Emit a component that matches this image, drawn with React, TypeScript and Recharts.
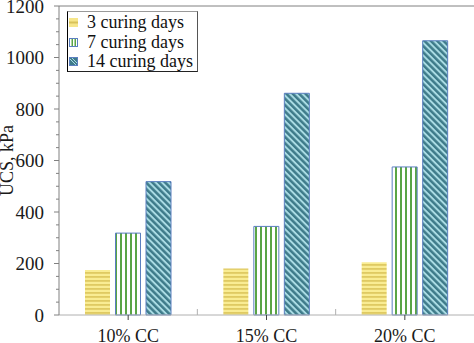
import React from 'react';
import { BarChart, Bar, XAxis, YAxis, ReferenceLine, Legend } from 'recharts';

const categories = ['10% CC', '15% CC', '20% CC'];
const days3 = [175, 181, 205];
const days7 = [318, 344, 575];
const days14 = [518, 861, 1065];
const yTicks = [0, 50, 100, 150, 200, 250, 300, 350, 400, 450, 500, 550, 600, 650, 700, 750, 800, 850, 900, 950, 1000, 1050, 1100, 1150, 1200];
const seriesNames = ['3 curing days', '7 curing days', '14 curing days'];

const data = categories.map((c, i) => ({ name: c, d3: days3[i], d7: days7[i], d14: days14[i] }));

const FONT = '"Liberation Serif", "Times New Roman", serif';
const OUTLINE = '#5b7fc0';

const YTick = (props: any) => {
  const { x, y, payload } = props;
  const v = payload.value;
  const major = v % 200 === 0;
  return (
    <g>
      <line x1={x - (major ? 5 : 3)} x2={x} y1={y} y2={y} stroke="#808080" strokeWidth={1} />
      {major && (
        <text x={x - 15} y={y} dy="0.36em" textAnchor="end" fontFamily={FONT} fontSize={19} fill="#1a1a1a">
          {v}
        </text>
      )}
    </g>
  );
};

const XTick = (props: any) => {
  const { x, y, payload, width, visibleTicksCount, index } = props;
  const bw = width / (visibleTicksCount || 3);
  const last = index === (visibleTicksCount || 3) - 1;
  return (
    <g>
      <line x1={x} x2={x} y1={y} y2={y + 5} stroke="#444" strokeWidth={1} />
      {!last && <line x1={x + bw / 2} x2={x + bw / 2} y1={y - 6} y2={y} stroke="#b0b0b0" strokeWidth={1} />}
      <text x={x} y={y + 14} dy="0.71em" textAnchor="middle" fontFamily={FONT} fontSize={18} fill="#1a1a1a">
        {payload.value}
      </text>
    </g>
  );
};

const Icon = ({ kind }: { kind: number }) => {
  if (kind === 0) {
    return (
      <svg width={9} height={9} style={{ display: 'block' }}>
        <rect x={0} y={0} width={9} height={9} fill="#f6e68a" />
        <rect x={0} y={3.5} width={9} height={2} fill="#d8c25a" />
      </svg>
    );
  }
  if (kind === 1) {
    return (
      <svg width={9} height={9} style={{ display: 'block' }}>
        <rect x={0.5} y={0.5} width={8} height={8} fill="#fff" stroke={OUTLINE} />
        <rect x={2.5} y={1} width={1.5} height={7} fill="#5aa545" />
        <rect x={5.5} y={1} width={1.5} height={7} fill="#5aa545" />
      </svg>
    );
  }
  return (
    <svg width={9} height={9} style={{ display: 'block' }}>
      <rect x={0.5} y={0.5} width={8} height={8} fill="#3e7b8a" stroke={OUTLINE} />
      <line x1={1} y1={2} x2={7} y2={8} stroke="#a9dbe3" strokeWidth={1} />
      <line x1={3} y1={1} x2={8} y2={6} stroke="#a9dbe3" strokeWidth={1} />
    </svg>
  );
};

const LegendBox = () => (
  <div
    style={{
      fontFamily: FONT,
      fontSize: 18,
      color: '#111',
      borderTop: '1px solid #999',
      borderRight: '1px solid #555',
      borderBottom: '1px solid #222',
      borderLeft: '1px solid #000',
      width: 129,
      height: 58,
      paddingTop: 1,
      boxSizing: 'content-box',
      background: '#fff',
    }}
  >
    {seriesNames.map((n, i) => (
      <div key={n} style={{ display: 'flex', alignItems: 'center', height: 19.5, lineHeight: '19.5px' }}>
        <div style={{ marginLeft: 1, width: 9 }}>
          <Icon kind={i} />
        </div>
        <span style={{ marginLeft: 9, whiteSpace: 'nowrap' }}>{n}</span>
      </div>
    ))}
  </div>
);

export default function App() {
  return (
    <div style={{ position: 'absolute', left: 0, top: 0, width: 474, height: 343, background: '#fff' }}>
      <BarChart
        width={474}
        height={343}
        data={data}
        margin={{ top: 6, right: 0, bottom: 0, left: 0 }}
        barSize={25}
        barGap={5.5}
      >
        <defs>
          <pattern id="pYellow" patternUnits="userSpaceOnUse" width={4} height={4}>
            <rect x={0} y={0} width={4} height={4} fill="#f9ec93" />
            <rect x={0} y={0} width={4} height={1.8} fill="#dfca62" />
          </pattern>
          <pattern id="pGreen" patternUnits="userSpaceOnUse" width={5} height={5}>
            <rect x={0} y={0} width={5} height={5} fill="#ffffff" />
            <rect x={0} y={0} width={2} height={5} fill="#5aa545" />
          </pattern>
          <pattern id="pBlue" patternUnits="userSpaceOnUse" width={4.5} height={4.5} patternTransform="rotate(-45)">
            <rect x={0} y={0} width={4.5} height={4.5} fill="#a9dbe3" />
            <rect x={0} y={0} width={2.5} height={4.5} fill="#3e7b8a" />
          </pattern>
        </defs>
        <XAxis
          dataKey="name"
          height={28}
          interval={0}
          tickSize={0}
          tickMargin={0}
          tickLine={false}
          axisLine={{ stroke: '#b0b0b0' }}
          tick={(p: any) => <XTick {...p} />}
        />
        <YAxis
          width={59}
          domain={[0, 1200]}
          ticks={yTicks}
          interval={0}
          tickSize={0}
          tickMargin={0}
          tickLine={false}
          axisLine={{ stroke: '#808080' }}
          tick={(p: any) => <YTick {...p} />}
          label={{
            value: 'UCS, kPa',
            angle: -90,
            position: 'insideLeft',
            offset: 7,
            style: { textAnchor: 'middle', fontFamily: FONT, fontSize: 18, fill: '#1a1a1a' },
          }}
        />
        <ReferenceLine y={1200} stroke="#808080" strokeWidth={1} />
        <Legend
          layout="vertical"
          verticalAlign="middle"
          align="center"
          wrapperStyle={{ top: 11, left: 67, width: 'auto', height: 'auto' }}
          content={() => <LegendBox />}
        />
        <Bar dataKey="d3" name={seriesNames[0]} fill="url(#pYellow)" isAnimationActive={false} />
        <Bar dataKey="d7" name={seriesNames[1]} fill="url(#pGreen)" stroke={OUTLINE} strokeWidth={1} isAnimationActive={false} />
        <Bar dataKey="d14" name={seriesNames[2]} fill="url(#pBlue)" stroke={OUTLINE} strokeWidth={1} isAnimationActive={false} />
      </BarChart>
    </div>
  );
}
